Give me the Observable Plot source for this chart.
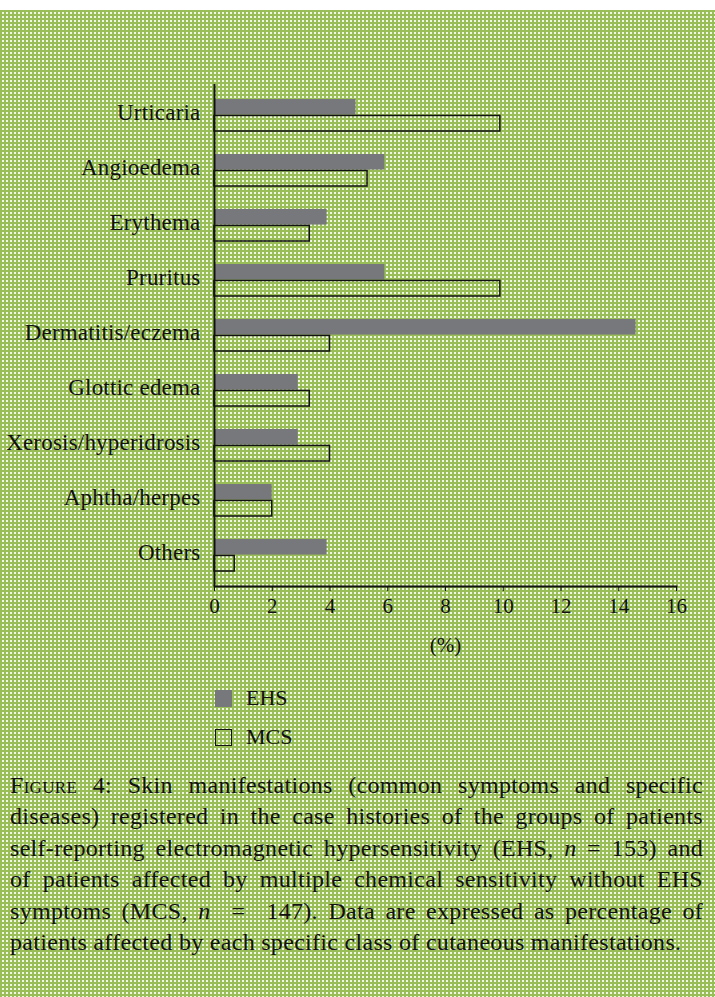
<!DOCTYPE html>
<html>
<head>
<meta charset="utf-8">
<script src="https://cdn.jsdelivr.net/npm/d3@7"></script>
<script src="https://cdn.jsdelivr.net/npm/@observablehq/plot@0.6"></script>
<style>
  html, body { margin: 0; padding: 0; background: #fff; }
  #page { position: relative; width: 715px; height: 997px; overflow: hidden; font-family: "Liberation Serif", serif; color: #111; }
  #bg { position: absolute; left: 0; top: 10px; width: 715px; height: 987px;
        background-color: #f0f6e4;
        background-image: linear-gradient(to right, #99be58 2px, transparent 2px),
                          linear-gradient(to bottom, #99be58 2px, transparent 2px);
        background-size: 4px 4px; }
  #chart { position: absolute; left: 0; top: 60px; }
  #chart g[aria-label="y-axis tick label"] text { letter-spacing: 0.2px; }
  .leg { position: absolute; left: 215px; font-size: 22px; line-height: 22px; }
  .sw { position: absolute; left: 0; width: 17px; height: 17px; box-sizing: border-box; }
  .lt { position: absolute; left: 31px; top: -3px; white-space: nowrap; }
  #caption { position: absolute; left: 10px; top: 770px; width: 693px; font-size: 24px; line-height: 31.4px; letter-spacing: 0.3px; }
  #caption div { text-align: justify; text-align-last: justify; white-space: nowrap; }
  #caption div.last { text-align-last: left; }
  .sc { font-variant: small-caps; }
</style>
</head>
<body>
<div id="page">
  <div id="bg"></div>
  <div id="chart"></div>
  <div class="leg" style="top:690px"><div class="sw" style="background:#77787c"></div><div class="lt">EHS</div></div>
  <div class="leg" style="top:729px"><div class="sw" style="border:1.5px solid #111"></div><div class="lt">MCS</div></div>
  <div id="caption">
    <div><span class="sc">Figure</span> 4: Skin manifestations (common symptoms and specific</div>
    <div>diseases) registered in the case histories of the groups of patients</div>
    <div>self-reporting electromagnetic hypersensitivity (EHS, <i>n</i> = 153) and</div>
    <div>of patients affected by multiple chemical sensitivity without EHS</div>
    <div>symptoms (MCS, <i>n</i> &nbsp;= &nbsp;147). Data are expressed as percentage of</div>
    <div class="last">patients affected by each specific class of cutaneous manifestations.</div>
  </div>
</div>
<script>
const categories = ["Urticaria", "Angioedema", "Erythema", "Pruritus", "Dermatitis/eczema", "Glottic edema", "Xerosis/hyperidrosis", "Aphtha/herpes", "Others"];
const ehsValues = [4.9, 5.9, 3.9, 5.9, 14.6, 2.9, 2.9, 2.0, 3.9];
const mcsValues = [9.9, 5.3, 3.3, 9.9, 4.0, 3.3, 4.0, 2.0, 0.7];
const xTicks = [0, 2, 4, 6, 8, 10, 12, 14, 16];

const ehs = categories.map((c, i) => ({category: c, value: ehsValues[i]}));
const mcs = categories.map((c, i) => ({category: c, value: mcsValues[i]}));

const step = 502 / categories.length;
const bw = step * (1 - 0.41);
const half = bw / 2;

const chart = Plot.plot({
  width: 715,
  height: 596,
  marginLeft: 214,
  marginRight: 39,
  marginTop: 24,
  marginBottom: 70,
  style: {background: "transparent", fontFamily: "Liberation Serif, serif", color: "#111", overflow: "visible"},
  x: {domain: [0, 16]},
  y: {domain: categories, paddingInner: 0.41, paddingOuter: 0.205},
  marks: [
    Plot.barX(ehs, {x: "value", y: "category", fill: "#77787c", insetBottom: half}),
    Plot.barX(mcs, {x: "value", y: "category", fill: "none", stroke: "#111", strokeWidth: 1.5, insetTop: half}),
    Plot.ruleX([0], {stroke: "#111", strokeWidth: 2}),
    Plot.frame({anchor: "bottom", stroke: "#111", strokeWidth: 2}),
    Plot.axisY({tickSize: 0, tickPadding: 14, fontSize: 23, dy: -3, label: null}),
    Plot.axisX({ticks: xTicks, tickSize: 5, tickPadding: 7, fontSize: 21, label: "(%)", labelAnchor: "center", labelArrow: "none", labelOffset: 65})
  ]
});
document.getElementById("chart").appendChild(chart);
</script>
</body>
</html>
